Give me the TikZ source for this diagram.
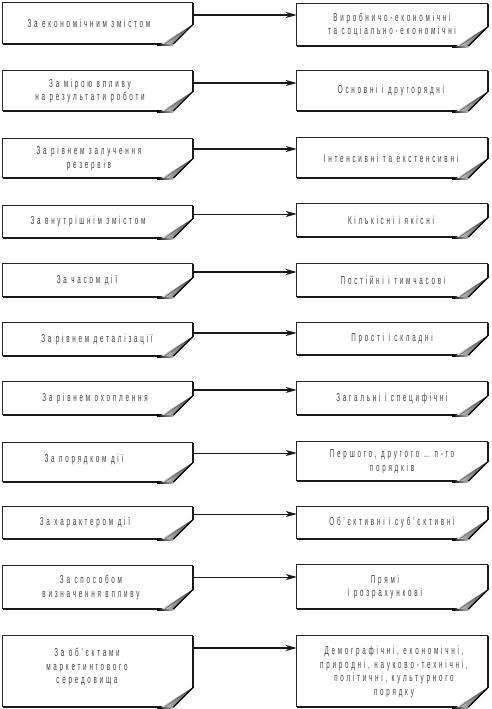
\documentclass[tikz,border=0pt]{standalone}
\usepackage{fontspec}
\setmainfont{Liberation Sans}[FakeStretch=0.55, LetterSpace=24]
\usetikzlibrary{arrows.meta,fit,calc}
\tikzset{
  edgethin/.style={draw=black!85, line width=0.9bp},
  edgethick/.style={draw=black!90, line width=2.2bp},
  connthick/.style={draw=black!90, line width=1.4bp, -{Stealth[length=11bp,width=6bp,inset=3bp]}},
  connthin/.style={draw=black!90, line width=0.8bp, -{Stealth[length=11bp,width=6bp,inset=3bp]}},
  txt/.style={text=black!75, align=center, inner sep=0pt, font=\fontsize{11.5}{13.8}\selectfont},
}
\newcommand{\pgbox}[5]{%
  \node[fit={(#2,#3) (#4,#5)}, inner sep=0pt] (#1) {};
  \draw[edgethin] (#1.south west) -- (#1.north west) -- (#1.north east);
  \draw[edgethick] (#1.north east) -- ([yshift=19bp]#1.south east);
  \draw[edgethick] (#1.south west) -- ([xshift=-34bp]#1.south east);
  \shade[left color=black, right color=gray!50] ([xshift=-36bp,yshift=-1.1bp]#1.south east) rectangle ([xshift=-20bp,yshift=1.1bp]#1.south east);
  \shade[left color=white, right color=black!85, shading angle=60] ([xshift=-32bp]#1.south east) -- ([xshift=-20bp]#1.south east) -- ([yshift=20bp]#1.south east) -- cycle;
  \draw[black!70, line width=0.4bp] ([xshift=-28bp,yshift=0.5bp]#1.south east) -- ([xshift=-1bp,yshift=19bp]#1.south east);
  \draw[black, line width=1.2bp] ([xshift=-20bp]#1.south east) -- ([yshift=20bp]#1.south east);
}
\begin{document}
\begin{tikzpicture}[x=1bp, y=-1bp]
\useasboundingbox (0,0) rectangle (492,709);
% row 1
\pgbox{L1}{3}{3}{193}{44}
\pgbox{R1}{297}{4}{488}{46}
\node[txt] (tL1) at (89,23.5) {За економічним змістом};
\node[txt] (tR1) at (392,25) {Виробничо-економічні\\та соціально-економічні};
\draw[connthick] (L1.east |- 0,15) -- (R1.west |- 0,15);
% row 2
\pgbox{L2}{3}{71}{193}{111}
\pgbox{R2}{297}{71}{488}{111}
\node[txt] (tL2) at (90,91) {За мірою впливу\\на результати роботи};
\node[txt] (tR2) at (391,91) {Основні і другорядні};
\draw[connthick] (L2.east |- 0,83) -- (R2.west |- 0,83);
% row 3
\pgbox{L3}{3}{139}{193}{178}
\pgbox{R3}{297}{138}{488}{178}
\node[txt] (tL3) at (89,158.5) {За рівнем залучення\\резервів};
\node[txt] (tR3) at (391,158) {Інтенсивні та екстенсивні};
\draw[connthick] (L3.east |- 0,149) -- (R3.west |- 0,149);
% row 4
\pgbox{L4}{3}{206}{193}{238}
\pgbox{R4}{297}{204}{488}{237}
\node[txt] (tL4) at (88,222) {За внутрішнім змістом};
\node[txt] (tR4) at (391,220.5) {Кількісні і якісні};
\draw[connthin] (L4.east |- 0,214) -- (R4.west |- 0,214);
% row 5
\pgbox{L5}{3}{264}{193}{297}
\pgbox{R5}{297}{264}{488}{297}
\node[txt] (tL5) at (87,280.5) {За часом дії};
\node[txt] (tR5) at (393,280.5) {Постійні і тимчасові};
\draw[connthick] (L5.east |- 0,272) -- (R5.west |- 0,272);
% row 6
\pgbox{L6}{3}{323}{193}{356}
\pgbox{R6}{297}{323}{488}{355}
\node[txt] (tL6) at (97,339.5) {За рівнем деталізації};
\node[txt] (tR6) at (392,339) {Прості і складні};
\draw[connthick] (L6.east |- 0,333) -- (R6.west |- 0,333);
% row 7
\pgbox{L7}{3}{382}{193}{415}
\pgbox{R7}{297}{382}{488}{415}
\node[txt] (tL7) at (95,398.5) {За рівнем охоплення};
\node[txt] (tR7) at (392,398.5) {Загальні і специфічні};
\draw[connthick] (L7.east |- 0,390) -- (R7.west |- 0,390);
% row 8
\pgbox{L8}{3}{443}{193}{482}
\pgbox{R8}{297}{442}{488}{481}
\node[txt] (tL8) at (84,460) {За порядком дії};
\node[txt] (tR8) at (392,461.5) {Першого, другого … п-го\\порядків};
\draw[connthin] (L8.east |- 0,453) -- (R8.west |- 0,453);
% row 9
\pgbox{L9}{3}{507}{193}{539}
\pgbox{R9}{297}{507}{488}{539}
\node[txt] (tL9) at (85,522.5) {За характером дії};
\node[txt] (tR9) at (392,522.5) {Об’єктивні і суб’єктивні};
\draw[connthin] (L9.east |- 0,514) -- (R9.west |- 0,514);
% row 10
\pgbox{L10}{3}{566}{193}{609}
\pgbox{R10}{297}{565}{488}{609}
\node[txt] (tL10) at (91,587.5) {За способом\\визначення впливу};
\node[txt] (tR10) at (385,587) {Прямі\\і розрахункові};
\draw[connthin] (L10.east |- 0,577) -- (R10.west |- 0,577);
% row 11
\pgbox{L11}{3}{636}{193}{707}
\pgbox{R11}{297}{636}{488}{707}
\node[txt] (tL11) at (87,667) {За об’єктами\\маркетингового\\середовища};
\node[txt] (tR11) at (394,672) {Демографічні, економічні,\\природні, науково-технічні,\\політичні, культурного\\порядку};
\draw[connthick] (L11.east |- 0,648) -- (R11.west |- 0,648);
\end{tikzpicture}
\end{document}
